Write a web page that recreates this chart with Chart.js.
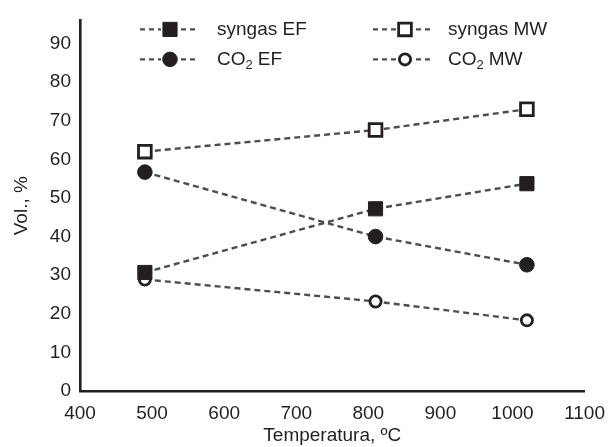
<!DOCTYPE html>
<html>
<head>
<meta charset="utf-8">
<script src="https://cdn.jsdelivr.net/npm/chart.js@4.4.0/dist/chart.umd.min.js"></script>
<style>
  body { margin: 0; background: #fff; }
</style>
</head>
<body>
<canvas id="grafico" width="616" height="447"></canvas>
<script>
// Datos
const temperaturas = [490, 810, 1020];
const syngasEF = [30.7, 47.2, 53.7];
const syngasMW = [62.0, 67.6, 73.0];
const co2EF = [56.7, 40.0, 32.7];
const co2MW = [28.9, 23.2, 18.3];
const nombres = ['syngas EF', 'syngas MW', 'CO₂ EF', 'CO₂ MW'];
const ticksX = [400, 500, 600, 700, 800, 900, 1000, 1100];
const ticksY = [0, 10, 20, 30, 40, 50, 60, 70, 80, 90];

const negro = '#231f20';
const gris = '#4d4d4f';
const fuente = "'Liberation Sans', Arial, sans-serif";

function puntos(valores) {
    return temperaturas.map((t, i) => ({ x: t, y: valores[i] }));
}

function serie(nombre, valores, estilo, radio, relleno, borde) {
    return {
        label: nombre,
        data: puntos(valores),
        showLine: true,
        borderColor: gris,
        borderWidth: 2.4,
        borderDash: [6, 4],
        pointStyle: estilo,
        pointRadius: radio,
        pointHoverRadius: radio,
        pointBackgroundColor: relleno,
        pointBorderColor: negro,
        pointBorderWidth: borde
    };
}

// texto con subindice para el "2" de CO2
function textoSub(ctx, texto, x, y) {
    const partes = texto.split('₂');
    ctx.font = '19px ' + fuente;
    ctx.fillText(partes[0], x, y);
    if (partes.length > 1) {
        let w = ctx.measureText(partes[0]).width;
        ctx.font = '13px ' + fuente;
        ctx.fillText('2', x + w, y + 6);
        w += ctx.measureText('2').width + 5;
        ctx.font = '19px ' + fuente;
        ctx.fillText(partes[1].trim(), x + w, y);
    }
}

// leyenda propia: raya - marcador - raya
const leyenda = {
    id: 'leyenda',
    afterDraw(chart) {
        const ctx = chart.ctx;
        const a = chart.chartArea;
        chart.data.datasets.forEach((ds, i) => {
            const col = i % 2;
            const fila = Math.floor(i / 2);
            const x0 = a.left + (col ? 293 : 60);
            const y = a.top + (fila ? 39 : 9);
            const xm = x0 + (col ? 32 : 30);
            ctx.save();
            ctx.strokeStyle = gris;
            ctx.lineWidth = 2.4;
            ctx.setLineDash([5, 4]);
            ctx.beginPath();
            ctx.moveTo(x0, y);
            ctx.lineTo(xm - 9, y);
            ctx.moveTo(xm + 11, y);
            ctx.lineTo(xm + 29, y);
            ctx.stroke();
            ctx.setLineDash([]);
            ctx.fillStyle = ds.pointBackgroundColor;
            ctx.strokeStyle = negro;
            ctx.lineWidth = ds.pointBorderWidth;
            Chart.helpers.drawPoint(ctx, {
                pointStyle: ds.pointStyle,
                radius: ds.pointRadius,
                borderWidth: ds.pointBorderWidth,
                rotation: 0
            }, xm, y);
            ctx.fillStyle = negro;
            ctx.textBaseline = 'middle';
            ctx.textAlign = 'left';
            textoSub(ctx, ds.label, x0 + (col ? 75 : 77), y);
            ctx.restore();
        });
    }
};

const config = {
    type: 'scatter',
    data: {
        datasets: [
            serie(nombres[0], syngasEF, 'rect', 10, negro, 1),
            serie(nombres[1], syngasMW, 'rect', 9, '#fff', 2.8),
            serie(nombres[2], co2EF, 'circle', 7.3, negro, 1),
            serie(nombres[3], co2MW, 'circle', 5.6, '#fff', 2.8)
        ]
    },
    options: {
        responsive: false,
        animation: false,
        layout: { padding: { left: 0, right: 29, top: 14, bottom: 0 } },
        plugins: {
            legend: { display: false },
            tooltip: { enabled: false }
        },
        scales: {
            x: {
                type: 'linear',
                min: 400,
                max: 1100,
                grid: { display: false, drawTicks: false },
                border: { color: negro, width: 2.6 },
                afterBuildTicks: s => { s.ticks = ticksX.map(v => ({ value: v })); },
                afterFit: s => { s.height = 56; },
                ticks: {
                    padding: 11,
                    color: negro,
                    font: { family: fuente, size: 19 },
                    maxRotation: 0,
                    callback: v => String(v)
                },
                title: {
                    display: true,
                    text: 'Temperatura, ºC',
                    color: negro,
                    font: { family: fuente, size: 19 },
                    padding: { top: 0, bottom: 0 }
                }
            },
            y: {
                min: 0,
                max: 96,
                grid: { display: false, drawTicks: false },
                border: { color: negro, width: 2.6 },
                afterBuildTicks: s => { s.ticks = ticksY.map(v => ({ value: v })); },
                afterFit: s => { s.width = 80; },
                ticks: {
                    padding: 9,
                    color: negro,
                    font: { family: fuente, size: 19 },
                    callback: v => String(v)
                },
                title: {
                    display: true,
                    text: 'Vol., %',
                    color: negro,
                    font: { family: fuente, size: 19 },
                    padding: { top: 10, bottom: 0 }
                }
            }
        }
    },
    plugins: [leyenda]
};

const grafico = new Chart(document.getElementById('grafico'), config);
</script>
</body>
</html>
